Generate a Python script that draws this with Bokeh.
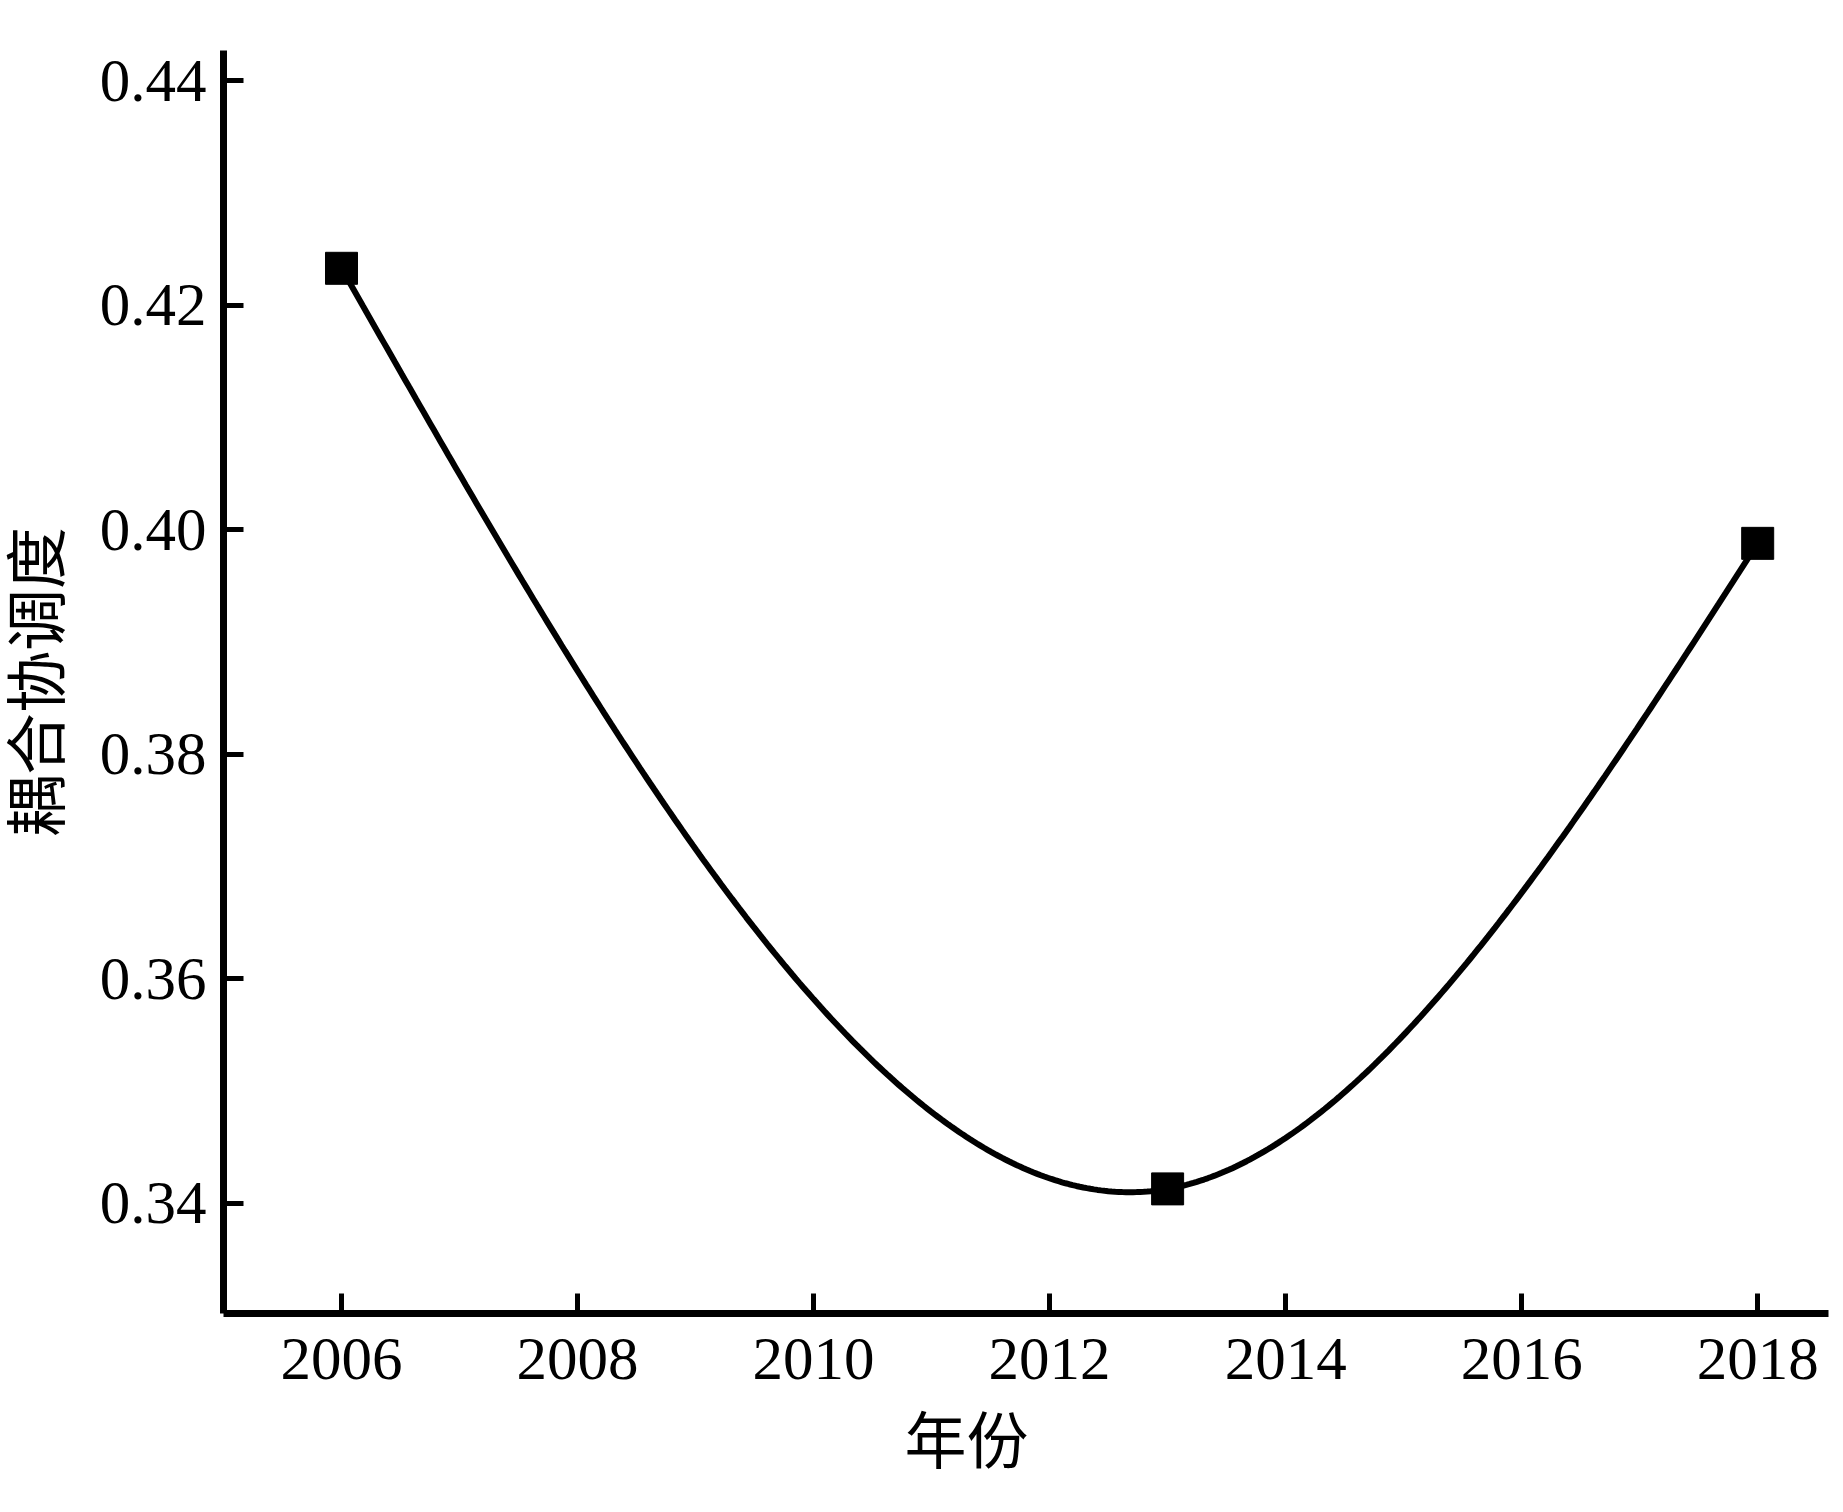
import numpy as np
from bokeh.plotting import figure
from bokeh.models import FixedTicker, Range1d, CustomJSTickFormatter, Title
from bokeh.embed import file_html
from bokeh.resources import INLINE

# ---- data ----
years = [2006, 2013, 2018]
coupling = [0.4233, 0.3413, 0.3988]
x_ticks = [2006, 2008, 2010, 2012, 2014, 2016, 2018]
y_ticks = [0.34, 0.36, 0.38, 0.40, 0.42, 0.44]
x_title = "年份"
y_title = "耦合协调度"


def natural_spline(xs, ys, n=400):
    """Smooth connecting line (natural cubic spline) through the data points."""
    xs = np.asarray(xs, float)
    ys = np.asarray(ys, float)
    k = len(xs)
    h = np.diff(xs)
    A = np.zeros((k, k))
    r = np.zeros(k)
    A[0, 0] = A[-1, -1] = 1.0
    for i in range(1, k - 1):
        A[i, i - 1] = h[i - 1]
        A[i, i] = 2 * (h[i - 1] + h[i])
        A[i, i + 1] = h[i]
        r[i] = 6 * ((ys[i + 1] - ys[i]) / h[i] - (ys[i] - ys[i - 1]) / h[i - 1])
    M = np.linalg.solve(A, r)
    tx = np.linspace(xs[0], xs[-1], n)
    ty = np.empty_like(tx)
    for j, t in enumerate(tx):
        i = min(np.searchsorted(xs, t, side="right") - 1, k - 2)
        a, b = xs[i], xs[i + 1]
        hi = b - a
        ty[j] = (M[i] * (b - t) ** 3 / (6 * hi) + M[i + 1] * (t - a) ** 3 / (6 * hi)
                 + (ys[i] / hi - M[i] * hi / 6) * (b - t)
                 + (ys[i + 1] / hi - M[i + 1] * hi / 6) * (t - a))
    return tx, ty


sx, sy = natural_spline(years, coupling)

p = figure(width=1835, height=1504, output_backend="svg", toolbar_location=None,
           x_range=Range1d(2005.0, 2018.6), y_range=Range1d(0.3302, 0.4427),
           min_border_left=223, min_border_right=7, min_border_top=50,
           min_border_bottom=191)

p.line(sx, sy, line_color="black", line_width=6)
p.scatter(years, coupling, marker="square", size=32, fill_color="black",
          line_color="black")

p.grid.visible = False
p.outline_line_color = None
p.background_fill_color = "white"
p.border_fill_color = "white"

num_font = "Liberation Serif"
cjk_font = "Liberation Serif, Noto Sans CJK SC"

for ax in (p.xaxis[0], p.yaxis[0]):
    ax.axis_line_width = 7
    ax.axis_line_color = "black"
    ax.major_tick_in = 20
    ax.major_tick_out = 0
    ax.major_tick_line_width = 5
    ax.major_tick_line_color = "black"
    ax.minor_tick_line_color = None
    ax.major_label_text_font = num_font
    ax.major_label_text_font_size = "61px"
    ax.major_label_text_color = "black"
    ax.axis_label_text_font = cjk_font
    ax.axis_label_text_font_size = "62px"
    ax.axis_label_text_font_style = "normal"
    ax.axis_label_text_color = "black"

p.xaxis.ticker = FixedTicker(ticks=x_ticks)
p.yaxis.ticker = FixedTicker(ticks=y_ticks)
p.yaxis.formatter = CustomJSTickFormatter(code="return tick.toFixed(2);")
p.xaxis.major_label_standoff = 25
p.yaxis.major_label_standoff = 17
p.yaxis.axis_label = y_title
p.yaxis.axis_label_standoff = 24

# x-axis title, placed slightly left of centre as in the original
p.add_layout(Title(text=x_title, align="left", offset=681, standoff=50,
                   text_font=cjk_font, text_font_size="62px",
                   text_font_style="normal", text_color="black"), "below")

open("out.html", "w").write(file_html(p, INLINE))
